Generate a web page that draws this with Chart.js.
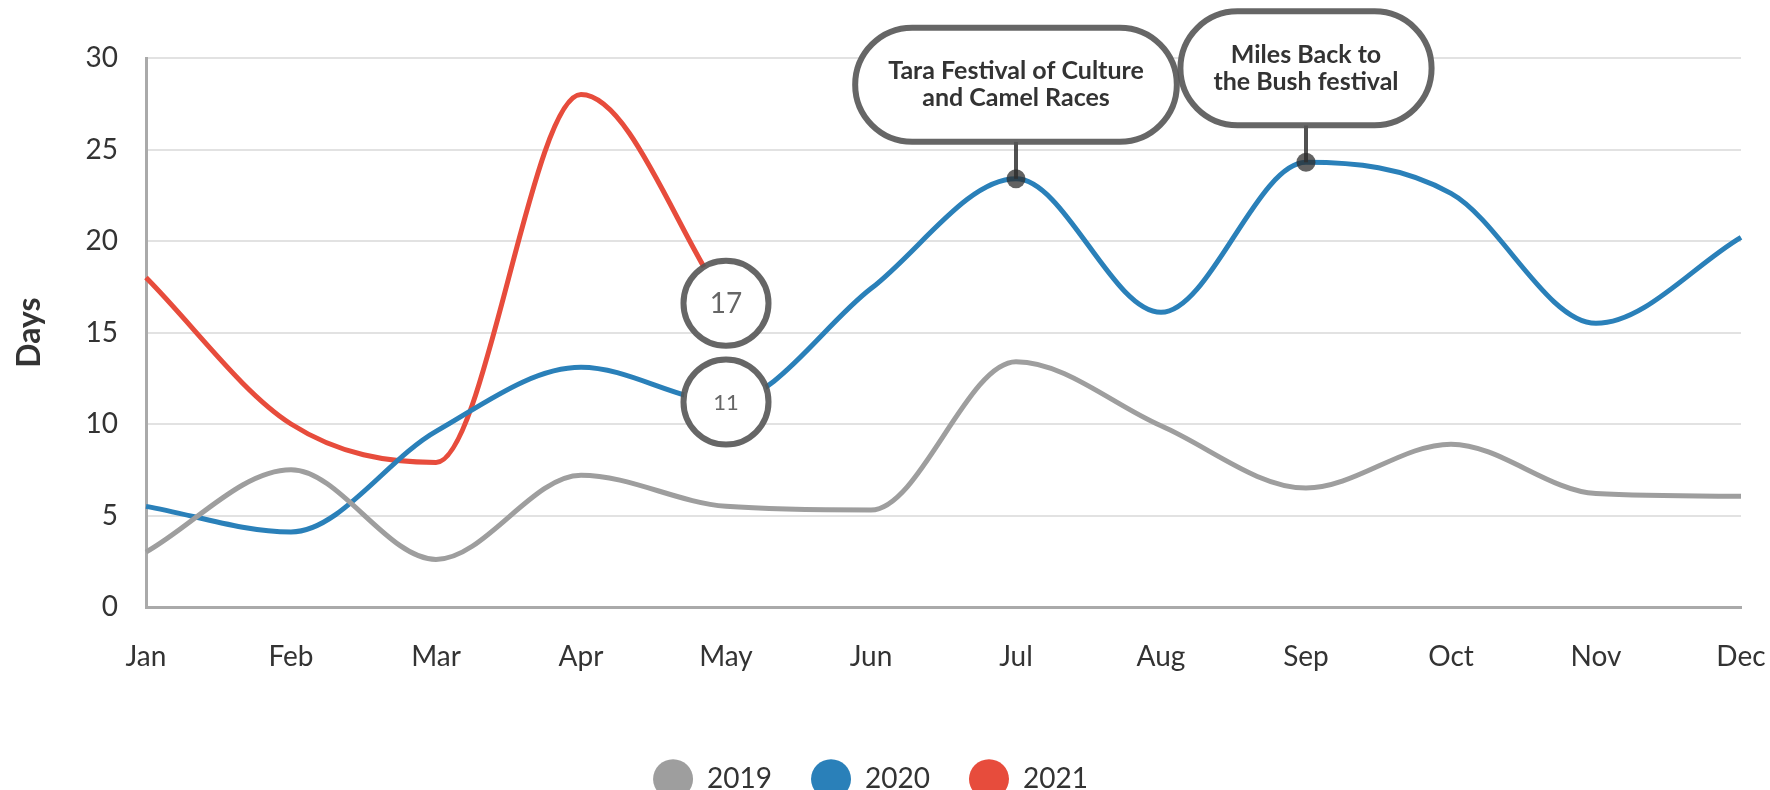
<!DOCTYPE html>
<html>
<head>
<meta charset="utf-8">
<script src="https://cdn.jsdelivr.net/npm/chart.js@4/dist/chart.umd.min.js"></script>
<style>
  html, body { margin: 0; padding: 0; background: #ffffff; }
  #wrap { width: 1770px; height: 790px; overflow: hidden; }
</style>
</head>
<body>
<div id="wrap"><canvas id="c" width="1770" height="790"></canvas></div>
<script>
// ---- data ----
const months = ['Jan','Feb','Mar','Apr','May','Jun','Jul','Aug','Sep','Oct','Nov','Dec'];
const seriesNames = ['2019','2020','2021'];
const days2019 = [3.0, 7.5, 2.6, 7.2, 5.5, 5.3, 13.4, 9.9, 6.5, 8.9, 6.2, 6.05];
const days2020 = [5.5, 4.1, 9.6, 13.1, 11.2, 17.4, 23.4, 16.1, 24.3, 22.6, 15.5, 20.2];
const days2021 = [18.0, 10.0, 7.9, 28.0, 16.6, null, null, null, null, null, null, null];
const yTickValues = [0, 5, 10, 15, 20, 25, 30];
const axisTitle = 'Days';
// labelled points (circle badges) and callouts
const badgeSeries = [1, 2];
const badgeMonths = ['May', 'May'];
const calloutSeries = [1, 1];
const calloutMonths = ['Jul', 'Sep'];
const calloutLines = [['Tara Festival of Culture', 'and Camel Races'], ['Miles Back to', 'the Bush festival']];

// ---- styles ----
const FONT = 'Lato';
const colors = ['#9e9e9e', '#2a80b9', '#e74c3c'];
const allSeries = [days2019, days2020, days2021];

const badgePlugin = {
  id: 'badges',
  afterDatasetsDraw(chart) {
    const ctx = chart.ctx, xs = chart.scales.x, ys = chart.scales.y;
    badgeSeries.forEach((si, k) => {
      const mi = months.indexOf(badgeMonths[k]);
      const v = allSeries[si][mi];
      const x = xs.getPixelForValue(mi), y = ys.getPixelForValue(v);
      const r = Math.round(v);
      ctx.save();
      ctx.beginPath();
      ctx.arc(x, y, 42.5, 0, Math.PI * 2);
      ctx.fillStyle = '#ffffff';
      ctx.fill();
      ctx.lineWidth = 6;
      ctx.strokeStyle = 'rgba(85,85,85,0.9)';
      ctx.stroke();
      ctx.fillStyle = '#666666';
      ctx.font = `400 ${11 + r}px ${FONT}`;
      ctx.textAlign = 'center';
      ctx.textBaseline = 'middle';
      ctx.fillText(String(r), x, y + 1);
      ctx.restore();
    });
  }
};

const calloutPlugin = {
  id: 'callouts',
  afterDraw(chart) {
    const ctx = chart.ctx, xs = chart.scales.x, ys = chart.scales.y;
    calloutSeries.forEach((si, k) => {
      const mi = months.indexOf(calloutMonths[k]);
      const v = allSeries[si][mi];
      const x = xs.getPixelForValue(mi), y = ys.getPixelForValue(v);
      const lines = calloutLines[k];
      ctx.save();
      ctx.font = `700 25px ${FONT}`;
      const tw = Math.max(...lines.map(l => ctx.measureText(l).width));
      const w = tw + 66, h = 114;
      const top = y - 151, left = x - w / 2, bottom = top + h;
      // connector
      ctx.beginPath();
      ctx.moveTo(x, bottom);
      ctx.lineTo(x, y);
      ctx.lineWidth = 4;
      ctx.strokeStyle = 'rgba(50,50,50,0.85)';
      ctx.stroke();
      // pill box
      const rr = h / 2;
      ctx.beginPath();
      ctx.moveTo(left + rr, top);
      ctx.lineTo(left + w - rr, top);
      ctx.arc(left + w - rr, top + rr, rr, -Math.PI / 2, Math.PI / 2);
      ctx.lineTo(left + rr, bottom);
      ctx.arc(left + rr, top + rr, rr, Math.PI / 2, Math.PI * 1.5);
      ctx.closePath();
      ctx.fillStyle = '#ffffff';
      ctx.fill();
      ctx.lineWidth = 6;
      ctx.strokeStyle = 'rgba(85,85,85,0.9)';
      ctx.stroke();
      // text
      ctx.fillStyle = '#333333';
      ctx.textAlign = 'center';
      ctx.textBaseline = 'middle';
      const cy = top + h / 2;
      const lh = 27;
      lines.forEach((l, i) => ctx.fillText(l, x, cy + (i - (lines.length - 1) / 2) * lh));
      // point marker
      ctx.beginPath();
      ctx.arc(x, y, 9.5, 0, Math.PI * 2);
      ctx.fillStyle = 'rgba(45,45,45,0.75)';
      ctx.fill();
      ctx.restore();
    });
  }
};

const mkDs = (i) => ({
  label: seriesNames[i],
  data: allSeries[i],
  borderColor: colors[i],
  backgroundColor: colors[i],
  borderWidth: 5,
  pointRadius: 0,
  pointHoverRadius: 0,
  cubicInterpolationMode: 'monotone',
  spanGaps: false,
  fill: false
});

new Chart(document.getElementById('c'), {
  type: 'line',
  data: { labels: months, datasets: [mkDs(0), mkDs(1), mkDs(2)] },
  options: {
    responsive: false,
    animation: false,
    devicePixelRatio: 1,
    layout: { padding: { top: 58, right: 29, left: 0, bottom: -13 } },
    plugins: {
      legend: {
        position: 'bottom',
        labels: {
          usePointStyle: true,
          pointStyle: 'circle',
          pointStyleWidth: 40,
          boxHeight: 28,
          padding: 39,
          color: '#333333',
          font: { family: FONT, size: 28 },
          generateLabels: (chart) => Chart.defaults.plugins.legend.labels.generateLabels(chart).map(l => ({ ...l, lineWidth: 0 }))
        }
      },
      tooltip: { enabled: false }
    },
    scales: {
      x: {
        offset: false,
        grid: { display: false, drawTicks: false },
        border: { display: true, color: '#aaaaaa', width: 3 },
        ticks: { padding: 33, color: '#333333', font: { family: FONT, size: 28 }, maxRotation: 0, autoSkip: false },
        afterFit(s) { s.height = 119; s.paddingLeft = 0; s.paddingRight = 0; }
      },
      y: {
        min: 0, max: 30,
        afterBuildTicks(s) { s.ticks = yTickValues.map(v => ({ value: v })); },
        grid: { color: '#e2e2e2', lineWidth: 2, drawTicks: false },
        border: { display: true, color: '#aaaaaa', width: 3 },
        ticks: { padding: 28, color: '#333333', font: { family: FONT, size: 28 } },
        title: { display: true, text: axisTitle, color: '#333333', font: { family: FONT, size: 32, weight: 'bold' }, padding: { top: 10, bottom: 0 } },
        afterFit(s) { s.width = 146; }
      }
    }
  },
  plugins: [badgePlugin, calloutPlugin]
});
</script>
</body>
</html>
